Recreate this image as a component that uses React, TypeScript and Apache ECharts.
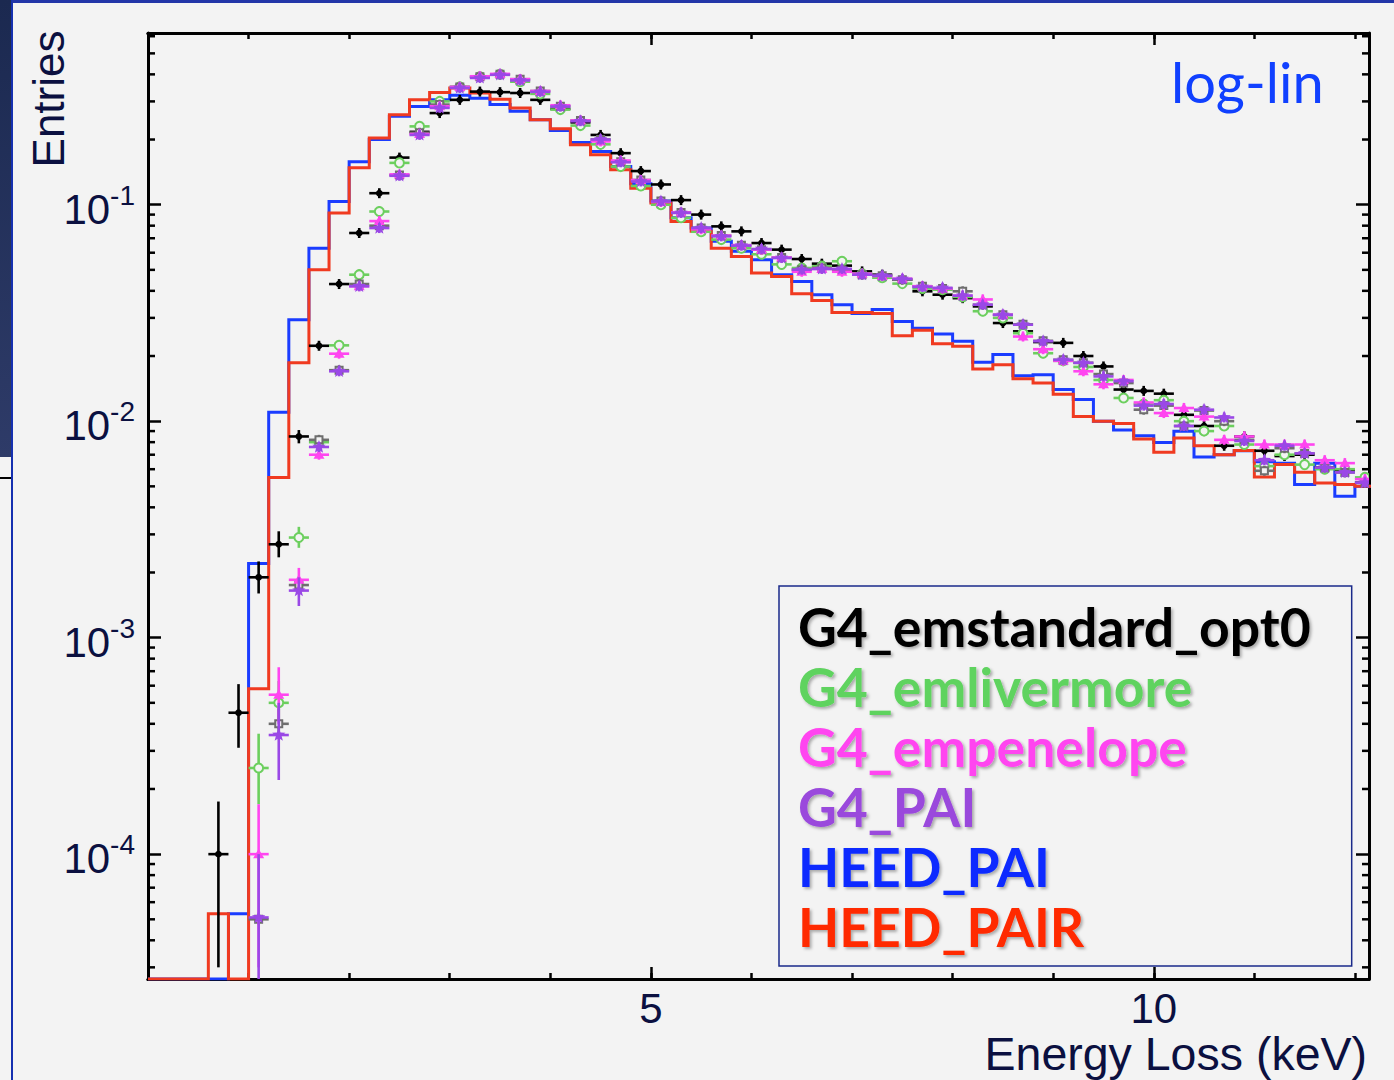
import React, { useEffect, useRef } from 'react';
import * as echarts from 'echarts';

// ---------- binning / axis ranges ----------
const BIN_WIDTH = 0.2;
const N_BINS = 61;
const binLow = Array.from({ length: N_BINS }, (_, k) => +(k * BIN_WIDTH).toFixed(1));
const binCenter = binLow.map((x) => +(x + BIN_WIDTH / 2).toFixed(2));

const X_MIN = 0;
const X_MAX = 12.14;
const Y_MIN = 2.65e-5;
const Y_MAX = 0.621;

const xLabelTicks = [5, 10];
const yTickExponents = [-4, -3, -2, -1];
const minorMantissas = [2, 3, 4, 5, 6, 7, 8, 9];
const minorExponents = [-5, -4, -3, -2, -1];

// ---------- histograms (value per 0.2 keV bin) ----------
const heedPAI = [
  0, 0, 0, 0, 5.3e-5, 2.2e-3, 0.011, 0.0294, 0.063, 0.1035,
  0.158, 0.2, 0.256, 0.284, 0.305, 0.32, 0.31, 0.29, 0.27, 0.247,
  0.22, 0.194, 0.176, 0.15, 0.125, 0.104, 0.087, 0.078, 0.0678, 0.061,
  0.0557, 0.0475, 0.0442, 0.0384, 0.0345, 0.0314, 0.0328, 0.0289, 0.0269, 0.0253,
  0.0234, 0.0187, 0.0203, 0.0162, 0.0164, 0.014, 0.0126, 0.01, 0.0091, 0.00857,
  0.00798, 0.00898, 0.00684, 0.007, 0.0073, 0.0065, 0.0064, 0.0051, 0.0064, 0.0045,
  0.005,
];
const heedPAIR = [
  0, 0, 0, 5.3e-5, 0, 5.8e-4, 5.5e-3, 0.0186, 0.05, 0.0916,
  0.148, 0.203, 0.26, 0.305, 0.33, 0.346, 0.328, 0.307, 0.28, 0.247,
  0.224, 0.189, 0.17, 0.145, 0.119, 0.1018, 0.0837, 0.0753, 0.063, 0.0577,
  0.0483, 0.0466, 0.0388, 0.0361, 0.0318, 0.0318, 0.0314, 0.0248, 0.0263, 0.0228,
  0.0222, 0.0174, 0.0182, 0.0157, 0.015, 0.0133, 0.0105, 0.01, 0.00976, 0.00828,
  0.00718, 0.00836, 0.0077, 0.007, 0.00733, 0.00552, 0.0063, 0.00581, 0.00518, 0.0051,
  0.005,
];

// ---------- points (value per bin centre) ----------
const emStandard = [
  null, null, null, 1.0e-4, 4.5e-4, 1.9e-3, 2.7e-3, 8.5e-3, 2.23e-2, 4.3e-2,
  7.4e-2, 0.113, 0.165, 0.217, 0.265, 0.305, 0.333, 0.331, 0.328, 0.305,
  0.277, 0.24, 0.21, 0.173, 0.143, 0.124, 0.105, 0.09, 0.0794, 0.0753,
  0.0665, 0.062, 0.0561, 0.0534, 0.0523, 0.0492, 0.0475, 0.0451, 0.0398, 0.0384,
  0.037, 0.0339, 0.0284, 0.026, 0.0232, 0.023, 0.02, 0.0179, 0.014, 0.0138,
  0.0134, 0.0107, 0.0095, 0.0077, 0.0085, 0.0073, 0.0069, 0.007, 0.0061, 0.0059,
  0.0052,
];
const emLivermore = [
  null, null, null, null, null, 2.5e-4, 5.0e-4, 2.9e-3, 8.0e-3, 2.24e-2,
  4.75e-2, 9.3e-2, 0.156, 0.23, 0.3, 0.35, 0.39, 0.4, 0.37, 0.325,
  0.275, 0.232, 0.19, 0.15, 0.122, 0.1, 0.087, 0.075, 0.069, 0.063,
  0.059, 0.053, 0.051, 0.052, 0.0548, 0.048, 0.046, 0.0432, 0.041, 0.0405,
  0.0375, 0.0322, 0.03, 0.0255, 0.0206, 0.019, 0.0178, 0.0155, 0.0128, 0.012,
  0.0125, 0.01, 0.009, 0.0095, 0.0078, 0.0062, 0.007, 0.0063, 0.006, 0.006,
  0.0055,
];
const emPenelope = [
  null, null, null, null, null, 1.0e-4, 5.45e-4, 1.85e-3, 7.0e-3, 2.05e-2,
  4.2e-2, 8.4e-2, 0.138, 0.212, 0.285, 0.35, 0.392, 0.402, 0.38, 0.335,
  0.288, 0.245, 0.196, 0.16, 0.13, 0.103, 0.092, 0.077, 0.072, 0.065,
  0.062, 0.057, 0.049, 0.0505, 0.049, 0.048, 0.0468, 0.0455, 0.042, 0.041,
  0.038, 0.0365, 0.031, 0.0246, 0.0215, 0.019, 0.017, 0.0148, 0.0155, 0.0122,
  0.0109, 0.0115, 0.0105, 0.0082, 0.0085, 0.0078, 0.0078, 0.0078, 0.0066, 0.0064,
  0.0054,
];
const g4PAI = [
  null, null, null, null, null, 5.1e-5, 3.55e-4, 1.65e-3, 7.6e-3, 1.7e-2,
  4.2e-2, 7.8e-2, 0.136, 0.21, 0.28, 0.346, 0.385, 0.398, 0.375, 0.332,
  0.284, 0.243, 0.2, 0.157, 0.128, 0.1035, 0.0916, 0.078, 0.0714, 0.0647,
  0.0624, 0.0567, 0.0501, 0.0505, 0.0505, 0.0475, 0.047, 0.0454, 0.0417, 0.0413,
  0.038, 0.0345, 0.031, 0.0279, 0.0234, 0.0192, 0.0186, 0.0161, 0.0153, 0.0118,
  0.012, 0.0095, 0.0113, 0.0104, 0.0081, 0.0066, 0.0077, 0.0071, 0.0061, 0.0058,
  0.0052,
];
const g4PAIgrey = [
  null, null, null, null, null, 5.0e-5, 4.0e-4, 1.75e-3, 8.2e-3, 1.72e-2,
  4.3e-2, 8.0e-2, 0.137, 0.215, 0.29, 0.35, 0.39, 0.4, 0.38, 0.335,
  0.285, 0.245, 0.2, 0.158, 0.13, 0.104, 0.092, 0.078, 0.072, 0.065,
  0.062, 0.057, 0.05, 0.051, 0.05, 0.0475, 0.047, 0.045, 0.042, 0.041,
  0.0398, 0.0345, 0.031, 0.028, 0.0235, 0.0192, 0.0186, 0.0165, 0.015, 0.0113,
  0.0118, 0.0095, 0.0112, 0.01, 0.0082, 0.0059, 0.0075, 0.0071, 0.0061, 0.0058,
  0.0052,
];

// visible vertical error bars: [bin centre, low, high]
const emStandardErr = [[0.7, 3.0e-5, 1.75e-4], [0.9, 3.1e-4, 6.1e-4], [1.1, 1.6e-3, 2.25e-3], [1.3, 2.35e-3, 3.1e-3], [1.5, 7.9e-3, 9.1e-3]];
const emLivermoreErr = [[1.1, 1.7e-4, 3.6e-4], [1.3, 3.8e-4, 6.3e-4], [1.5, 2.6e-3, 3.25e-3]];
const emPenelopeErr = [[1.1, 3.0e-5, 1.7e-4], [1.3, 4.0e-4, 7.3e-4], [1.5, 1.6e-3, 2.1e-3]];
const g4PAIErr = [[1.1, 1.0e-5, 1.0e-4], [1.3, 2.2e-4, 5.0e-4], [1.5, 1.4e-3, 1.9e-3]];
const g4PAIgreyErr = [[1.3, 3.4e-4, 4.7e-4]];

const legendNames = ['G4_emstandard_opt0', 'G4_emlivermore', 'G4_empenelope', 'G4_PAI', 'HEED_PAI', 'HEED_PAIR'];
const legendColors = ['#000000', '#5fd35f', '#ff45f0', '#9a48dc', '#0a2cff', '#ff2a00'];

const BG = '#f3f3f3';
const LABEL_COLOR = '#0b1040';

function markerShape(kind: string, x: number, y: number, color: string): any {
  if (kind === 'dot') return { type: 'circle', shape: { cx: x, cy: y, r: 3.4 }, style: { fill: color } };
  if (kind === 'ocircle') return { type: 'circle', shape: { cx: x, cy: y, r: 4.5 }, style: { fill: BG, stroke: color, lineWidth: 2 } };
  if (kind === 'triangle') return { type: 'polygon', shape: { points: [[x, y - 5.5], [x + 5.5, y + 4], [x - 5.5, y + 4]] }, style: { fill: color } };
  if (kind === 'osquare') return { type: 'rect', shape: { x: x - 3.5, y: y - 3.5, width: 7, height: 7 }, style: { fill: BG, stroke: color, lineWidth: 2 } };
  const pts: number[][] = [];
  for (let i = 0; i < 10; i++) {
    const r = i % 2 === 0 ? 7 : 3;
    const a = -Math.PI / 2 + (i * Math.PI) / 5;
    pts.push([x + r * Math.cos(a), y + r * Math.sin(a)]);
  }
  return { type: 'polygon', shape: { points: pts }, style: { fill: color } };
}

function pointSeries(name: string, values: (number | null)[], errors: number[][], color: string, marker: string, z: number) {
  const data: number[][] = [];
  values.forEach((v, k) => {
    if (v == null) return;
    const c = binCenter[k];
    const e = errors.find((er) => Math.abs(er[0] - c) < 1e-6);
    data.push([c, v, e ? e[1] : -1, e ? e[2] : -1]);
  });
  return {
    type: 'custom',
    name,
    data,
    z,
    clip: true,
    silent: true,
    encode: { x: 0, y: 1 },
    renderItem: (_params: any, api: any) => {
      const x = api.value(0);
      const y = api.value(1);
      const lo = api.value(2);
      const hi = api.value(3);
      const p = api.coord([x, y]);
      const pl = api.coord([x - BIN_WIDTH / 2, y]);
      const pr = api.coord([x + BIN_WIDTH / 2, y]);
      const yLo = lo > 0 ? api.coord([x, Math.max(lo, Y_MIN)])[1] : p[1] + 5;
      const yHi = hi > 0 ? api.coord([x, Math.min(hi, Y_MAX)])[1] : p[1] - 5;
      const ls = { stroke: color, lineWidth: 2.6 };
      return {
        type: 'group',
        children: [
          { type: 'line', shape: { x1: pl[0], y1: p[1], x2: pr[0], y2: p[1] }, style: ls },
          { type: 'line', shape: { x1: p[0], y1: yLo, x2: p[0], y2: yHi }, style: ls },
          markerShape(marker, p[0], p[1], color),
        ],
      };
    },
  };
}

function histSeries(name: string, values: number[], color: string, z: number) {
  const data: number[][] = [];
  values.forEach((v, k) => {
    const yv = v > 0 ? v : Y_MIN;
    data.push([binLow[k], yv], [binLow[k] + BIN_WIDTH, yv]);
  });
  return {
    type: 'line',
    name,
    data,
    z,
    symbol: 'none',
    showSymbol: false,
    clip: true,
    silent: true,
    lineStyle: { color, width: 3, join: 'miter' },
    itemStyle: { color },
  };
}

const minorTickValues: number[] = [];
minorExponents.forEach((e) =>
  minorMantissas.forEach((m) => {
    const v = m * Math.pow(10, e);
    if (v > Y_MIN && v < Y_MAX) minorTickValues.push(v);
  })
);

function buildOption(): any {
  const xCommon = {
    type: 'value',
    min: X_MIN,
    max: X_MAX,
    splitLine: { show: false },
    axisLine: { show: true, onZero: false, lineStyle: { color: '#000', width: 3 } },
  };
  const tickStyle = { color: '#000', width: 2.5 };
  const yCommon = {
    type: 'log',
    logBase: 10,
    min: Y_MIN,
    max: Y_MAX,
    splitLine: { show: false },
    axisLine: { show: true, onZero: false, lineStyle: { color: '#000', width: 3 } },
    axisTick: { show: true, inside: true, length: 13, lineStyle: tickStyle },
  };
  return {
    animation: false,
    backgroundColor: 'transparent',
    grid: { left: 148, top: 33, right: 25, bottom: 101, containLabel: false, outerBoundsMode: 'none' },
    xAxis: [
      {
        ...xCommon,
        position: 'bottom',
        interval: 5,
        axisTick: { show: true, inside: true, length: 12, lineStyle: tickStyle },
        axisLabel: {
          show: true,
          margin: 11,
          lineHeight: 36,
          showMinLabel: false,
          showMaxLabel: false,
          color: LABEL_COLOR,
          fontFamily: 'Liberation Sans',
          fontSize: 42,
          formatter: (v: number) => (xLabelTicks.includes(v) ? String(v) : ''),
        },
      },
      { ...xCommon, position: 'bottom', interval: 1, axisTick: { show: true, inside: true, length: 6, lineStyle: tickStyle }, axisLabel: { show: false } },
      { ...xCommon, position: 'top', interval: 5, axisTick: { show: true, inside: true, length: 12, lineStyle: tickStyle }, axisLabel: { show: false } },
      { ...xCommon, position: 'top', interval: 1, axisTick: { show: true, inside: true, length: 6, lineStyle: tickStyle }, axisLabel: { show: false } },
    ],
    yAxis: [
      {
        ...yCommon,
        position: 'left',
        axisLabel: {
          show: true,
          margin: 13,
          padding: [9, 0, 0, 0],
          showMinLabel: false,
          showMaxLabel: false,
          formatter: (v: number) => {
            const lg = Math.log10(v);
            const e = Math.round(lg);
            if (Math.abs(lg - e) > 0.01 || !yTickExponents.includes(e)) return '';
            return `{base|10}{sup|${e}}`;
          },
          rich: {
            base: { fontFamily: 'Liberation Sans', fontSize: 42, lineHeight: 56, color: LABEL_COLOR },
            sup: { fontFamily: 'Liberation Sans', fontSize: 28, lineHeight: 27, verticalAlign: 'top', color: LABEL_COLOR },
          },
        },
      },
      { ...yCommon, position: 'right', axisLabel: { show: false } },
    ],
    legend: {
      show: true,
      orient: 'vertical',
      left: 779,
      top: 586,
      z: 10,
      icon: 'none',
      itemWidth: 0,
      itemHeight: 0,
      itemGap: 6,
      padding: [13, 41, 13, 14],
      backgroundColor: BG,
      borderColor: '#1a2a8a',
      borderWidth: 1.5,
      selectedMode: false,
      textStyle: {
        fontFamily: 'Lato',
        fontWeight: 'bold',
        fontSize: 53.5,
        lineHeight: 54,
        textShadowColor: 'rgba(0,0,0,0.3)',
        textShadowBlur: 3,
        textShadowOffsetX: 2,
        textShadowOffsetY: 2,
      },
      data: legendNames.map((n, i) => ({ name: n, textStyle: { color: legendColors[i] } })),
    },
    graphic: [
      {
        type: 'text',
        x: 1171,
        y: 81,
        z: 20,
        style: { text: 'log-lin', fill: '#1040ff', fontFamily: 'Lato', fontSize: 56, textAlign: 'left', textVerticalAlign: 'middle' },
      },
      {
        type: 'text',
        x: 48,
        y: 99,
        rotation: Math.PI / 2,
        z: 20,
        style: { text: 'Entries', fill: LABEL_COLOR, fontFamily: 'Liberation Sans', fontSize: 44, textAlign: 'center', textVerticalAlign: 'middle' },
      },
      {
        type: 'text',
        x: 1367,
        y: 1054,
        z: 20,
        style: { text: 'Energy Loss (keV)', fill: LABEL_COLOR, fontFamily: 'Liberation Sans', fontSize: 46.5, textAlign: 'right', textVerticalAlign: 'middle' },
      },
    ],
    series: [
      {
        type: 'custom',
        name: 'minorTicks',
        silent: true,
        z: 1,
        encode: { x: 0, y: 1 },
        data: minorTickValues.map((v) => [X_MIN, v]),
        renderItem: (_p: any, api: any) => {
          const v = api.value(1);
          const l = api.coord([X_MIN, v]);
          const r = api.coord([X_MAX, v]);
          const st = { stroke: '#000', lineWidth: 2.5 };
          return {
            type: 'group',
            children: [
              { type: 'line', shape: { x1: l[0], y1: l[1], x2: l[0] + 7, y2: l[1] }, style: st },
              { type: 'line', shape: { x1: r[0] - 7, y1: r[1], x2: r[0], y2: r[1] }, style: st },
            ],
          };
        },
      },
      histSeries('HEED_PAI', heedPAI, '#1a3cff', 2),
      histSeries('HEED_PAIR', heedPAIR, '#f03a20', 3),
      pointSeries('G4_emstandard_opt0', emStandard, emStandardErr, '#000000', 'dot', 4),
      pointSeries('G4_emlivermore', emLivermore, emLivermoreErr, '#6ccf5e', 'ocircle', 5),
      pointSeries('G4_PAI (grey)', g4PAIgrey, g4PAIgreyErr, '#6e6e6e', 'osquare', 5),
      pointSeries('G4_empenelope', emPenelope, emPenelopeErr, '#ff45f0', 'triangle', 6),
      pointSeries('G4_PAI', g4PAI, g4PAIErr, '#9a48e6', 'star', 7),
    ],
  };
}

export default function App() {
  const ref = useRef<HTMLDivElement>(null);
  useEffect(() => {
    document.body.style.margin = '0';
    if (!ref.current) return;
    const chart = echarts.init(ref.current, undefined, { renderer: 'svg' });
    chart.setOption(buildOption());
    return () => chart.dispose();
  }, []);
  return (
    <div style={{ position: 'absolute', left: 0, top: 0, width: 1394, height: 1080, background: BG, overflow: 'hidden' }}>
      <div style={{ position: 'absolute', left: 0, top: 0, width: 12, height: 457, background: 'linear-gradient(to bottom, #1b2950, #2e3b68)' }} />
      <div style={{ position: 'absolute', left: 0, top: 477, width: 11, height: 2, background: '#000' }} />
      <div style={{ position: 'absolute', left: 11, top: 0, width: 2, height: 1080, background: '#1530b0' }} />
      <div style={{ position: 'absolute', left: 12, top: 0, width: 1382, height: 3, background: '#2236a8' }} />
      <div ref={ref} style={{ position: 'absolute', left: 0, top: 0, width: 1394, height: 1080 }} />
    </div>
  );
}
